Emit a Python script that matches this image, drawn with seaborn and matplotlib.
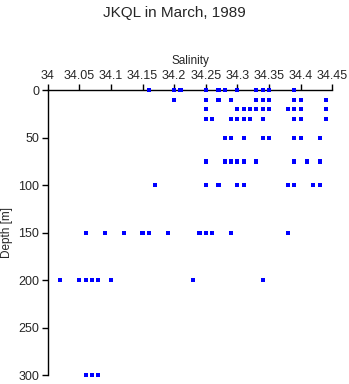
import matplotlib
matplotlib.use("Agg")
from matplotlib import pyplot as plt
import seaborn as sns
import pandas as pd

# salinity readings per sampling depth (m)
sal_0 = [34.16, 34.20, 34.21, 34.25, 34.27, 34.28, 34.30, 34.33, 34.34, 34.35, 34.39]
sal_10 = [34.20, 34.25, 34.27, 34.29, 34.33, 34.34, 34.35, 34.39, 34.40, 34.44]
sal_20 = [34.25, 34.30, 34.31, 34.32, 34.33, 34.34, 34.35, 34.38, 34.39, 34.40, 34.44]
sal_30 = [34.25, 34.26, 34.29, 34.30, 34.31, 34.32, 34.34, 34.39, 34.40, 34.44]
sal_50 = [34.28, 34.29, 34.31, 34.34, 34.35, 34.39, 34.40, 34.43]
sal_75 = [34.25, 34.28, 34.29, 34.30, 34.31, 34.33, 34.39, 34.41, 34.43]
sal_100 = [34.17, 34.25, 34.27, 34.30, 34.31, 34.38, 34.39, 34.42, 34.43]
sal_150 = [34.06, 34.09, 34.12, 34.15, 34.16, 34.19, 34.24, 34.25, 34.26, 34.29, 34.38]
sal_200 = [34.02, 34.05, 34.06, 34.07, 34.08, 34.10, 34.23, 34.34]
sal_300 = [34.06, 34.07, 34.08]

depths = [0, 10, 20, 30, 50, 75, 100, 150, 200, 300]
salinities = [sal_0, sal_10, sal_20, sal_30, sal_50, sal_75, sal_100, sal_150, sal_200, sal_300]

df = pd.DataFrame(
    [(s, d) for d, row in zip(depths, salinities) for s in row],
    columns=["Salinity", "Depth"],
)

x_ticks = [34, 34.05, 34.1, 34.15, 34.2, 34.25, 34.3, 34.35, 34.4, 34.45]
x_labels = ["34", "34.05", "34.1", "34.15", "34.2", "34.25", "34.3", "34.35", "34.4", "34.45"]
y_ticks = [0, 50, 100, 150, 200, 250, 300]

sns.set_style("white")
plt.rcParams["font.family"] = ["Liberation Sans", "DejaVu Sans"]

fig = plt.figure(figsize=(3.49, 3.84), dpi=100)
ax = fig.add_axes([0.1367, 0.0227, 0.8153, 0.7421])

sns.scatterplot(data=df, x="Salinity", y="Depth", ax=ax, marker="s",
                color="#0000ff", edgecolor="none", s=9, linewidth=0,
                clip_on=False, zorder=5)

ax.set_xlim(34, 34.45)
ax.set_ylim(300, 0)
ax.xaxis.tick_top()
ax.xaxis.set_label_position("top")
ax.set_xticks(x_ticks, x_labels)
ax.set_yticks(y_ticks)
ax.tick_params(axis="both", direction="out", length=4, width=1, color="black",
               labelsize=9, pad=2, top=True, bottom=False, left=True)
ax.set_xlabel("Salinity", fontsize=8.5, labelpad=4)
ax.set_ylabel("Depth [m]", fontsize=8.5, labelpad=4)
ax.spines[["bottom", "right"]].set_visible(False)
for side in ["top", "left"]:
    ax.spines[side].set_color("black")
    ax.spines[side].set_linewidth(1)
ax.grid(False)

fig.suptitle("JKQL in March, 1989", fontsize=11, y=0.985)

fig.savefig("out.png", dpi=100)
